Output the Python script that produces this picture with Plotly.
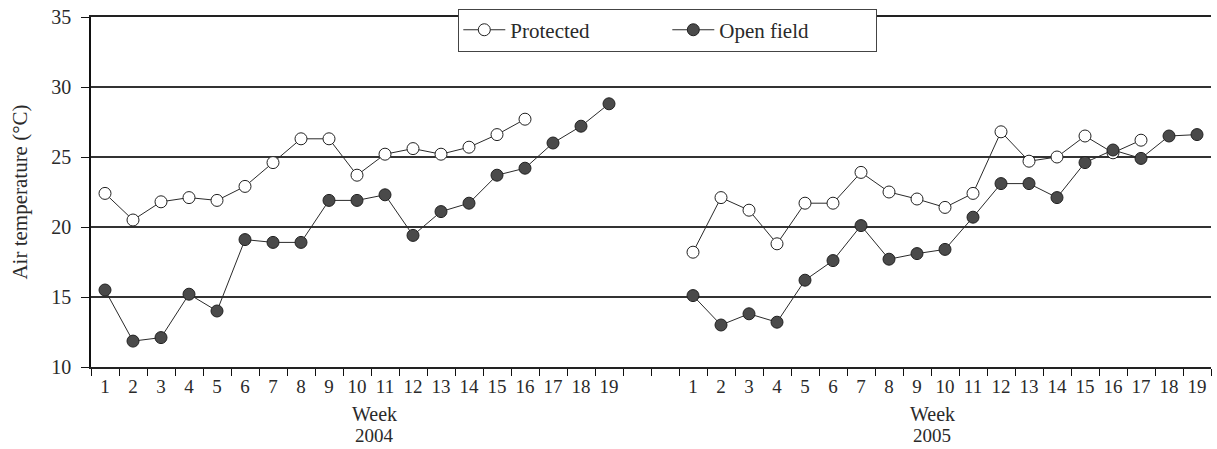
import plotly.graph_objects as go

weeks = list(range(1, 20))
week_labels = [str(w) for w in weeks]
years = ["2004", "2005"]
year_offset = {"2004": 0, "2005": 21}

protected_2004 = [22.4, 20.5, 21.8, 22.1, 21.9, 22.9, 24.6, 26.3, 26.3, 23.7,
                  25.2, 25.6, 25.2, 25.7, 26.6, 27.7]
open_2004 = [15.5, 11.85, 12.1, 15.2, 14.0, 19.1, 18.9, 18.9, 21.9, 21.9,
             22.3, 19.4, 21.1, 21.7, 23.7, 24.2, 26.0, 27.2, 28.8]
protected_2005 = [18.2, 22.1, 21.2, 18.8, 21.7, 21.7, 23.9, 22.5, 22.0, 21.4,
                  22.4, 26.8, 24.7, 25.0, 26.5, 25.3, 26.2]
open_2005 = [15.1, 13.0, 13.8, 13.2, 16.2, 17.6, 20.1, 17.7, 18.1, 18.4,
             20.7, 23.1, 23.1, 22.1, 24.6, 25.5, 24.9, 26.5, 26.6]

FONT = "Liberation Serif"
TXT = "#2a2a2a"
LINE = "#2a2a2a"

series = [
    ("Protected", "2004", protected_2004, "white"),
    ("Protected", "2005", protected_2005, "white"),
    ("Open field", "2004", open_2004, "#4a4a4a"),
    ("Open field", "2005", open_2005, "#4a4a4a"),
]

fig = go.Figure()
shown = set()
for name, yr, vals, fill in series:
    xs = [w + year_offset[yr] for w in weeks[:len(vals)]]
    fig.add_trace(go.Scatter(
        x=xs, y=vals, mode="lines+markers", name=name,
        legendgroup=name, showlegend=name not in shown,
        line=dict(color=LINE, width=1),
        marker=dict(size=12, color=fill, line=dict(color="#222222", width=1)),
    ))
    shown.add(name)

tickvals = [w + year_offset[y] for y in years for w in weeks]
ticktext = [lbl for y in years for lbl in week_labels]

fig.update_layout(
    width=1217, height=449,
    margin=dict(l=91, r=6, t=15, b=82),
    paper_bgcolor="white", plot_bgcolor="white",
    font=dict(family=FONT, size=19, color=TXT),
    showlegend=True,
    legend=dict(
        orientation="h", x=0.515, xanchor="center", y=1.024, yanchor="top",
        bgcolor="white", bordercolor="#444444", borderwidth=1,
        font=dict(family=FONT, size=21, color=TXT),
        itemwidth=42, entrywidth=152, tracegroupgap=0,
    ),
)

fig.update_xaxes(
    range=[0.5, 40.5], tickmode="array", tickvals=tickvals, ticktext=ticktext,
    ticks="", showgrid=False, zeroline=False,
    showline=True, mirror=True, linecolor="#222222", linewidth=1.5,
    ticklabelstandoff=1,
    tickfont=dict(family=FONT, size=19, color=TXT),
    minor=dict(tick0=0.5, dtick=1, ticks="outside", ticklen=7,
               tickcolor="#111111", tickwidth=1.2, showgrid=False),
)
fig.update_yaxes(
    range=[10, 35], dtick=5, tick0=10,
    ticks="outside", ticklen=8, tickcolor="#111111", tickwidth=1.2,
    showline=True, linecolor="#111111", linewidth=1.5,
    showgrid=True, gridcolor="#333333", gridwidth=1.5, zeroline=False,
    ticklabelstandoff=6,
    tickfont=dict(family=FONT, size=20, color=TXT),
    title=dict(text="Air temperature (°C)", standoff=18,
               font=dict(family=FONT, size=21, color=TXT)),
)

for yr, xc in zip(years, [10.64, 30.54]):
    fig.add_annotation(x=xc, xref="x", y=-0.1335, yref="paper", yanchor="middle",
                       text="Week", showarrow=False,
                       font=dict(family=FONT, size=20, color=TXT))
    fig.add_annotation(x=xc, xref="x", y=-0.196, yref="paper", yanchor="middle",
                       text=yr, showarrow=False,
                       font=dict(family=FONT, size=19, color=TXT))

fig.write_html("out.html", config={"displayModeBar": False},
               post_script="document.body.style.margin='0';")
